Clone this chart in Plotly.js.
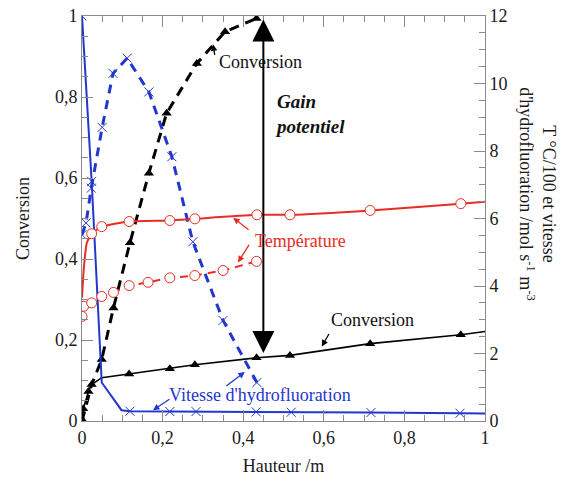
<!DOCTYPE html>
<html><head><meta charset="utf-8">
<script src="https://cdn.plot.ly/plotly-3.0.1.min.js"></script>
<style>body{margin:0;background:#fff}#chart{width:572px;height:484px}</style>
</head><body><div id="chart"></div>
<script>
// Vitesse d'hydrofluoration (right axis, mol s-1 m-3)
const vitSolidX = [0, 0.024, 0.049, 0.098, 0.119, 0.218, 0.283, 0.432, 0.519, 0.717, 0.938, 1];
const vitSolidY = [12, 7.1, 1.14, 0.32, 0.29, 0.28, 0.28, 0.27, 0.26, 0.25, 0.23, 0.22];
const vitSolidMkX = [0, 0.024, 0.119, 0.218, 0.283, 0.432, 0.519, 0.717, 0.938];
const vitSolidMkY = [12, 7.1, 0.29, 0.28, 0.28, 0.27, 0.26, 0.25, 0.23];
const vitDashX = [0, 0.01, 0.023, 0.05, 0.077, 0.112, 0.166, 0.223, 0.275, 0.35, 0.434];
const vitDashY = [5.52, 5.87, 6.9, 8.7, 10.3, 10.75, 9.75, 7.83, 5.31, 2.98, 1.14];
// Température /100 (right axis)
const tSolidX = [0, 0.005, 0.012, 0.024, 0.049, 0.117, 0.218, 0.28, 0.434, 0.516, 0.715, 0.94, 1];
const tSolidY = [3.65, 4.6, 5.28, 5.55, 5.76, 5.91, 5.94, 5.99, 6.11, 6.11, 6.24, 6.44, 6.5];
const tSolidMkX = [0.024, 0.049, 0.117, 0.218, 0.28, 0.434, 0.516, 0.715, 0.94];
const tSolidMkY = [5.55, 5.76, 5.91, 5.94, 5.99, 6.11, 6.11, 6.24, 6.44];
const tDashX = [0, 0.004, 0.024, 0.049, 0.078, 0.117, 0.164, 0.218, 0.28, 0.35, 0.433];
const tDashY = [3.1, 3.4, 3.5, 3.69, 3.81, 4.01, 4.11, 4.24, 4.31, 4.46, 4.73];
// Conversion (left axis)
const convSolidX = [0, 0.003, 0.016, 0.024, 0.049, 0.117, 0.218, 0.28, 0.433, 0.516, 0.715, 0.94, 1];
const convSolidY = [0.004, 0.03, 0.073, 0.09, 0.107, 0.116, 0.129, 0.139, 0.156, 0.162, 0.191, 0.213, 0.221];
const convSolidMkX = [0, 0.003, 0.016, 0.024, 0.117, 0.218, 0.28, 0.433, 0.516, 0.715, 0.94];
const convSolidMkY = [0.004, 0.03, 0.073, 0.09, 0.116, 0.129, 0.139, 0.156, 0.162, 0.191, 0.213];
const convDashX = [0, 0.01, 0.024, 0.049, 0.078, 0.119, 0.166, 0.21, 0.285, 0.355, 0.433];
const convDashY = [0, 0.04, 0.09, 0.152, 0.279, 0.44, 0.612, 0.76, 0.883, 0.961, 0.994];
const convDashMkX = [0.049, 0.078, 0.119, 0.166, 0.21, 0.285, 0.355, 0.433];
const convDashMkY = [0.152, 0.279, 0.44, 0.612, 0.76, 0.883, 0.961, 0.994];
const gainX = 0.45, gainTop = 0.995, gainBottom = 0.168;

const BLUE = 'rgb(35,55,205)', RED = 'rgb(232,45,35)', BLACK = '#000';
const F = '"Liberation Serif", "Times New Roman", serif';

const traces = [
  {x: vitDashX, y: vitDashY, yaxis: 'y2', mode: 'lines+markers', line: {color: BLUE, width: 3, dash: '9px,7px'},
   marker: {symbol: 'x-thin-open', size: 9, line: {color: BLUE, width: 1}, color: BLUE}},
  {x: vitSolidX, y: vitSolidY, yaxis: 'y2', mode: 'lines', line: {color: BLUE, width: 2}},
  {x: vitSolidMkX, y: vitSolidMkY, yaxis: 'y2', mode: 'markers',
   marker: {symbol: 'x-thin-open', size: 9, line: {color: BLUE, width: 1}, color: BLUE}},
  {x: tSolidX, y: tSolidY, yaxis: 'y2', mode: 'lines', line: {color: RED, width: 2, shape: 'spline', smoothing: 0.5}},
  {x: tSolidMkX, y: tSolidMkY, yaxis: 'y2', mode: 'markers',
   marker: {symbol: 'circle', size: 10, color: '#fff', line: {color: RED, width: 1}}},
  {x: tDashX, y: tDashY, yaxis: 'y2', mode: 'lines+markers', line: {color: RED, width: 2, dash: '8px,6px'},
   marker: {symbol: 'circle', size: 10, color: '#fff', line: {color: RED, width: 1}}},
  {x: convDashX, y: convDashY, mode: 'lines', line: {color: BLACK, width: 3, dash: '10px,7px'}},
  {x: convDashMkX, y: convDashMkY, mode: 'markers', marker: {symbol: 'triangle-up', size: 9, color: BLACK}},
  {x: convSolidX, y: convSolidY, mode: 'lines', line: {color: BLACK, width: 1.6}},
  {x: convSolidMkX, y: convSolidMkY, mode: 'markers', marker: {symbol: 'triangle-up', size: 9, color: BLACK}}
];

const axBase = {showgrid: false, zeroline: false, showline: true, linecolor: '#8a8a8a', linewidth: 1,
  ticks: 'inside', ticklen: 11, tickcolor: '#8a8a8a', tickwidth: 1,
  tickfont: {family: F, size: 18, color: '#1a1a1a'}};

const annArrow = (x, y, ax, ay, color, yref) => ({x, y, ax, ay, xref: 'x', yref: yref || 'y', axref: 'pixel', ayref: 'pixel',
  text: '', showarrow: true, arrowhead: 2, arrowsize: 1, arrowwidth: 1.3, arrowcolor: color});

const layout = {
  width: 572, height: 484,
  margin: {l: 82, r: 87, t: 16, b: 62.5},
  paper_bgcolor: '#fff', plot_bgcolor: '#fff',
  showlegend: false,
  separators: ', ',
  font: {family: F},
  xaxis: Object.assign({}, axBase, {range: [0, 1], dtick: 0.2, mirror: 'ticks',
    minor: {dtick: 0.05, ticks: 'inside', ticklen: 6, tickcolor: '#8a8a8a'},
    title: {text: 'Hauteur /m', font: {family: F, size: 18, color: '#1a1a1a'}, standoff: 12}}),
  yaxis: Object.assign({}, axBase, {range: [0, 1], dtick: 0.2,
    minor: {dtick: 0.05, ticks: 'inside', ticklen: 6, tickcolor: '#8a8a8a'},
    title: {text: 'Conversion', font: {family: F, size: 18, color: '#1a1a1a'}, standoff: 20}}),
  yaxis2: Object.assign({}, axBase, {range: [0, 12], dtick: 2, overlaying: 'y', side: 'right',
    minor: {dtick: 0.5, ticks: 'inside', ticklen: 6, tickcolor: '#8a8a8a'}}),
  annotations: [
    {x: 1.19, y: 0.56, xref: 'paper', yref: 'paper', showarrow: false, textangle: 90,
     text: 'T °C/100 et vitesse<br>d\'hydrofluoration /mol s<sup>-1</sup> m<sup>-3</sup>',
     font: {family: F, size: 18, color: '#1a1a1a'}, align: 'center'},
    {x: gainX, y: gainBottom, ax: gainX, ay: gainTop, xref: 'x', yref: 'y', axref: 'x', ayref: 'y',
     text: '', showarrow: true, arrowhead: 2, startarrowhead: 2, arrowside: 'end+start',
     arrowsize: 2.2, startarrowsize: 2.2, arrowwidth: 2, arrowcolor: BLACK},
    {x: 0.474, y: 0.757, xref: 'x', yref: 'y', xanchor: 'left', showarrow: false, align: 'left',
     text: '<b><i>Gain<br>potentiel</i></b>', font: {family: F, size: 19, color: '#111'}},
    {x: 0.336, y: 0.887, xref: 'x', yref: 'y', xanchor: 'left', showarrow: false,
     text: 'Conversion', font: {family: F, size: 18, color: '#111'}},
    annArrow(0.325, 0.93, 2, 12, BLACK),
    {x: 0.424, y: 0.445, xref: 'x', yref: 'y', xanchor: 'left', showarrow: false,
     text: 'Température', font: {family: F, size: 18, color: RED}},
    annArrow(0.375, 6.02, 17, 13, RED, 'y2'),
    annArrow(0.387, 4.7, 12, -19, RED, 'y2'),
    {x: 0.613, y: 0.25, xref: 'x', yref: 'y', xanchor: 'left', showarrow: false,
     text: 'Conversion', font: {family: F, size: 18, color: '#111'}},
    annArrow(0.595, 0.184, 8, -14, BLACK),
    {x: 0.211, y: 0.065, xref: 'x', yref: 'y', xanchor: 'left', showarrow: false,
     text: 'Vitesse d\'hydrofluoration', font: {family: F, size: 18, color: BLUE}},
    annArrow(0.176, 0.32, 18, -12, BLUE, 'y2'),
    annArrow(0.404, 1.45, -20, 15, BLUE, 'y2')
  ]
};

Plotly.newPlot('chart', traces, layout, {displayModeBar: false, staticPlot: true});
</script></body></html>
